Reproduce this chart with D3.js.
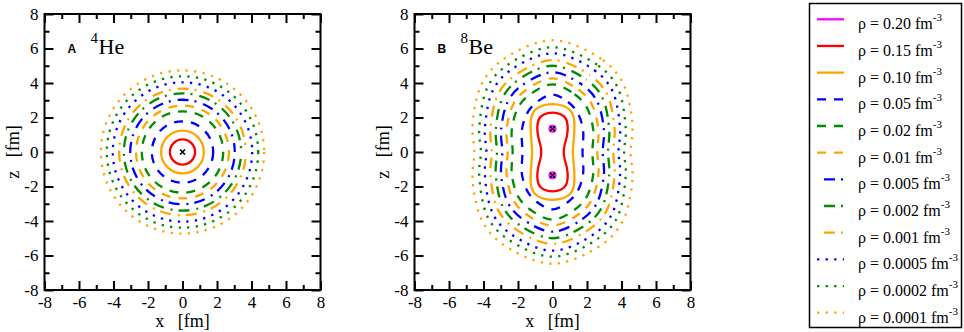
<!DOCTYPE html>
<html>
<head>
<meta charset="utf-8">
<script src="https://d3js.org/d3.v7.min.js"></script>
<style>
  body { margin: 0; background: #fff; }
  text { font-family: "Liberation Serif", "Times New Roman", serif; }
</style>
</head>
<body>
<script>
// density levels (fm^-3), legend order
var levels = ["0.20", "0.15", "0.10", "0.05", "0.02", "0.01", "0.005", "0.002", "0.001", "0.0005", "0.0002", "0.0001"];

// axis ticks
var majorTicks = [-8, -6, -4, -2, 0, 2, 4, 6, 8];
var minorTicks = [-7, -5, -3, -1, 1, 3, 5, 7];

// 4He: contours are circles, radius in fm per level (0.20 not reached)
var heRadii = [null, 0.73, 1.24, 1.78, 2.36, 2.69, 3.03, 3.40, 3.67, 4.04, 4.39, 4.73];
var heCentres = [[0, 0]];

// 8Be: alpha centres, and the tiny 0.20 rings around them
var beCentres = [[0, 1.35], [0, -1.35]];
var beInnerRadius = 0.17;

// 8Be: one quadrant of each contour, [x, z] from the top down to z = 0
var beQuarters = [
  null,
  [[0, 2.28], [0.5, 2.17], [0.78, 1.92], [0.88, 1.45], [0.82, 0.85], [0.7, 0.4], [0.65, 0]],
  [[0, 2.77], [0.6, 2.68], [1.0, 2.45], [1.22, 2.05], [1.27, 1.4], [1.22, 0.6], [1.18, 0]],
  [[0, 3.33], [0.9, 2.9], [1.45, 2.28], [1.77, 1.3], [1.74, 0]],
  [[0, 3.92], [1.28, 3.35], [1.97, 2.62], [2.36, 1.3], [2.31, 0]],
  [[0, 4.27], [1.50, 3.62], [2.26, 2.80], [2.66, 1.3], [2.60, 0]],
  [[0, 4.62], [1.73, 3.89], [2.56, 2.99], [2.98, 1.3], [2.91, 0]],
  [[0, 5.00], [1.97, 4.19], [2.87, 3.19], [3.29, 1.3], [3.22, 0]],
  [[0, 5.33], [2.18, 4.44], [3.15, 3.37], [3.60, 1.3], [3.52, 0]],
  [[0, 5.72], [2.43, 4.74], [3.46, 3.57], [3.92, 1.3], [3.83, 0]],
  [[0, 6.07], [2.65, 5.01], [3.76, 3.77], [4.25, 1.3], [4.15, 0]],
  [[0, 6.48], [2.92, 5.33], [4.05, 4.05], [4.50, 2.6], [4.64, 1.3], [4.53, 0]]
];

// line styles per level
var magenta = "#ff00ff", red = "#ff0000", orange = "#ffa500", blue = "#0000ff", green = "#008b00";
var solid = null, dashed = "9,8", dashDot = "11,6,2,7", dotted = "2.3,6.3";
var styles = [
  {c: magenta, d: solid}, {c: red, d: solid}, {c: orange, d: solid},
  {c: blue, d: dashed}, {c: green, d: dashed}, {c: orange, d: dashed},
  {c: blue, d: dashDot}, {c: green, d: dashDot}, {c: orange, d: dashDot},
  {c: blue, d: dotted}, {c: green, d: dotted}, {c: orange, d: dotted}
];

var w = 964, h = 332;
var plotTop = 14, plotBottom = 290, side = 276;
var serif = "'Liberation Serif', 'Times New Roman', serif";

var svg = d3.select("body").append("svg")
  .attr("width", w)
  .attr("height", h);

function mirror(q) {
  // full closed loop from one quadrant
  var a = q.slice();
  var b = q.slice(0, -1).reverse().map(function(p) { return [p[0], -p[1]]; });
  var c = q.slice(1).map(function(p) { return [-p[0], -p[1]]; });
  var d = q.slice(1, -1).reverse().map(function(p) { return [-p[0], p[1]]; });
  return a.concat(b, c, d);
}

function styleLine(sel, i) {
  sel.attr("fill", "none")
    .attr("stroke", styles[i].c)
    .attr("stroke-width", 2.3)
    .attr("stroke-dasharray", styles[i].d)
    .attr("stroke-dashoffset", styles[i].d === dashDot ? 19 : 0);
}

function drawPanel(left, tag, mass, sym, draw) {
  var x = d3.scaleLinear().domain([-8, 8]).range([left, left + side]);
  var y = d3.scaleLinear().domain([-8, 8]).range([plotBottom, plotTop]);
  var g = svg.append("g");

  var clip = "clip" + tag;
  g.append("clipPath").attr("id", clip)
    .append("rect").attr("x", left).attr("y", plotTop).attr("width", side).attr("height", side);
  var plot = g.append("g").attr("clip-path", "url(#" + clip + ")");

  draw(plot, x, y);

  // ticks, inward on all four sides
  var axes = [
    [d3.axisBottom(x), "translate(0," + plotBottom + ")", true],
    [d3.axisTop(x), "translate(0," + plotTop + ")", false],
    [d3.axisLeft(y), "translate(" + left + ",0)", true],
    [d3.axisRight(y), "translate(" + (left + side) + ",0)", false]
  ];
  axes.forEach(function(a) {
    var major = a[0].tickValues(majorTicks).tickSizeInner(-9).tickSizeOuter(0).tickPadding(6)
      .tickFormat(a[2] ? function(d) { return String(d); } : "");
    var gm = g.append("g").attr("transform", a[1]).call(major);
    gm.attr("font-family", null).attr("font-size", null);
    gm.select(".domain").remove();
    gm.selectAll("line").attr("stroke", "#000").attr("stroke-width", 2);
    gm.selectAll("text").attr("fill", "#000")
      .style("font-family", serif).style("font-size", "17px");
    var minor = a[0].tickValues(minorTicks).tickSizeInner(-5).tickSizeOuter(0).tickFormat("");
    var gn = g.append("g").attr("transform", a[1]).call(minor);
    gn.select(".domain").remove();
    gn.selectAll("line").attr("stroke", "#000").attr("stroke-width", 2);
  });

  g.append("rect")
    .attr("x", left).attr("y", plotTop).attr("width", side).attr("height", side)
    .attr("fill", "none").attr("stroke", "#000").attr("stroke-width", 2);

  // axis titles
  g.append("text")
    .attr("x", left + side / 2).attr("y", 327)
    .attr("text-anchor", "middle")
    .style("font-family", serif).style("font-size", "18px")
    .style("white-space", "pre")
    .text("x   [fm]");
  g.append("text")
    .attr("transform", "translate(" + (left - 26) + "," + 152 + ") rotate(-90)")
    .attr("text-anchor", "middle")
    .style("font-family", serif).style("font-size", "18px")
    .style("white-space", "pre")
    .text("z   [fm]");

  // panel tag and nucleus
  g.append("text")
    .attr("x", left + 23).attr("y", 53)
    .attr("font-weight", "bold")
    .style("font-family", "'Liberation Sans', Arial, sans-serif").style("font-size", "12px")
    .text(tag);
  g.append("text").attr("x", left + 46).attr("y", 43)
    .style("font-family", serif).style("font-size", "15px").text(mass);
  g.append("text").attr("x", left + 54).attr("y", 54)
    .style("font-family", serif).style("font-size", "22px").text(sym);
}

function crosses(plot, x, y, pts) {
  pts.forEach(function(p) {
    var cx = x(p[0]), cy = y(p[1]);
    plot.append("path")
      .attr("d", "M" + (cx - 2.5) + "," + (cy - 2.5) + "L" + (cx + 2.5) + "," + (cy + 2.5) +
                 "M" + (cx - 2.5) + "," + (cy + 2.5) + "L" + (cx + 2.5) + "," + (cy - 2.5))
      .attr("stroke", "#000").attr("stroke-width", 1.6);
  });
}

// panel A: 4He
drawPanel(44.5, "A", "4", "He", function(plot, x, y) {
  var k = x(1) - x(0);
  heRadii.forEach(function(r, i) {
    if (r === null) return;
    plot.append("circle")
      .attr("cx", x(heCentres[0][0])).attr("cy", y(heCentres[0][1]))
      .attr("r", r * k)
      .call(styleLine, i);
  });
  crosses(plot, x, y, heCentres);
});

// panel B: 8Be
drawPanel(414.5, "B", "8", "Be", function(plot, x, y) {
  var line = d3.line()
    .x(function(d) { return x(d[0]); })
    .y(function(d) { return y(d[1]); })
    .curve(d3.curveCatmullRomClosed.alpha(0.5));
  beQuarters.forEach(function(q, i) {
    if (q === null) return;
    plot.append("path").attr("d", line(mirror(q))).call(styleLine, i);
  });
  var k = x(1) - x(0);
  beCentres.forEach(function(p) {
    plot.append("circle")
      .attr("cx", x(p[0])).attr("cy", y(p[1]))
      .attr("r", beInnerRadius * k)
      .call(styleLine, 0);
  });
  crosses(plot, x, y, beCentres);
});

// legend
var lg = svg.append("g");
lg.append("rect")
  .attr("x", 809.5).attr("y", 3.5).attr("width", 152).attr("height", 324)
  .attr("fill", "#fff").attr("stroke", "#000").attr("stroke-width", 1.5);
var rowY = d3.scaleLinear().domain([0, 11]).range([19.3, 312.7]);
levels.forEach(function(lv, i) {
  var yy = rowY(i);
  lg.append("line")
    .attr("x1", 817).attr("x2", 844).attr("y1", yy).attr("y2", yy)
    .call(styleLine, i);
  var t = lg.append("text").attr("x", 858).attr("y", yy + 10)
    .style("font-family", serif).style("font-size", "16px");
  t.append("tspan").text("\u03c1 = " + lv + " fm");
  t.append("tspan").style("font-size", "11px").attr("dy", -8).text("-3");
});
</script>
</body>
</html>
